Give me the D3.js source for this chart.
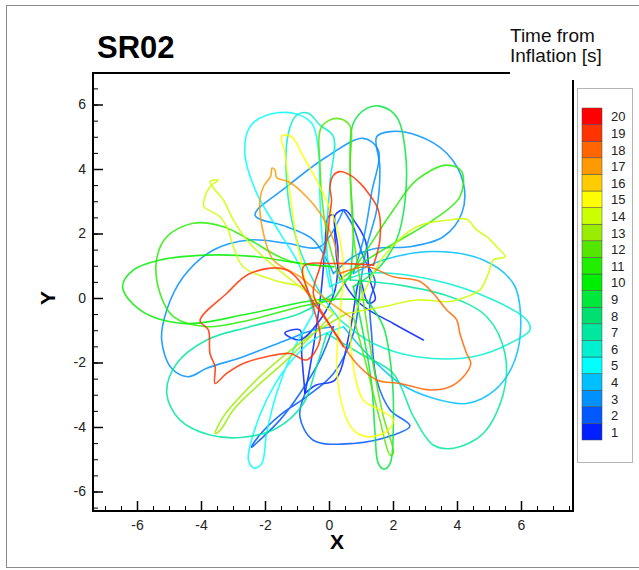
<!DOCTYPE html>
<html>
<head>
<meta charset="utf-8">
<script src="https://d3js.org/d3.v7.min.js"></script>
<style>
  body { margin: 0; background: #fff; }
  text { font-family: Arial, "Liberation Sans", Helvetica, sans-serif; }
</style>
</head>
<body>
<div id="chart"></div>
<script>
// legend levels (time from inflation, s) and their band colours
var levels = [1,2,3,4,5,6,7,8,9,10,11,12,13,14,15,16,17,18,19,20];
var levelColors = ["#0020ff","#0058ff","#0090ff","#00c0ff","#00ffff","#00f0d0","#00e8a0","#00e070","#00e83c","#00ee00",
                   "#22ee00","#55e600","#99ee00","#ccff00","#ffff00","#ffcc00","#ff9900","#ff6600","#ff3300","#ff0000"];

var xTicks = [-6,-4,-2,0,2,4,6];
var yTicks = [-6,-4,-2,0,2,4,6];

// time band of each loop of the track, in drawing order
var loopTimes = [1,1,2,3,2,3,3,4,5,5,6,6,7,7,9,9,10,11,11,12,14,13,14,15,17,18,19,19];

// track waypoints [x, y]
var loop01 = [[2.95,-1.30],[2.01,-0.79],[0.97,-0.17],[0.34,0.76],[0.19,1.80],[0.14,2.57],[-0.02,2.52],[-0.13,1.49],[-0.23,0.35],[-0.39,-0.89],[-0.59,-2.13],[-0.75,-2.96]];
var loop01b = [[-0.75,-2.96],[-0.85,-1.80],[-0.91,-0.99],[-1.38,-1.09],[-0.91,-1.30],[-0.28,-0.68],[0.19,0.25],[0.28,1.49],[0.19,2.57],[0.50,2.73],[0.81,2.36],[1.13,1.80],[1.28,0.56],[1.44,-0.06],[1.22,-0.16],[0.97,0.56],[0.66,-0.99],[0.19,-2.54],[-0.40,-2.70],[-0.75,-2.96]];
var loop02 = [[-0.75,-2.96],[-0.91,-3.68],[-0.49,-4.41],[0.76,-4.51],[2.01,-4.25],[2.53,-3.97],[1.91,-3.47],[1.49,-2.54],[1.33,-1.10],[1.28,-0.06],[1.44,0.51],[1.07,1.28],[0.76,2.21],[0.45,2.73]];
var loop03 = [[0.45,2.73],[-0.28,1.59],[-1.32,1.70],[-2.47,1.80],[-3.61,1.49],[-4.55,0.66],[-5.07,-0.37],[-5.23,-1.30],[-4.92,-2.18],[-4.40,-2.44],[-3.82,-2.18],[-2.68,-1.82],[-1.32,-1.30],[-0.49,-0.99],[0.14,-0.89]];
var loop04 = [[0.14,-0.89],[-0.28,-1.92],[-0.91,-2.96],[-1.53,-3.78],[-2.16,-4.40],[-2.42,-4.63],[-2.21,-4.30],[-1.53,-3.63],[-0.70,-3.06],[0.14,-2.34],[0.76,-1.10],[0.97,0.35]];
var loop05 = [[0.97,0.35],[1.18,1.59],[1.49,2.73],[1.59,4.07],[1.49,5.00],[1.91,5.16],[2.74,5.05],[3.68,4.49],[4.20,3.56],[4.15,2.63],[3.57,1.90],[2.53,1.59],[1.49,1.54],[0.76,1.28],[0.14,0.76]];
var loop06 = [[0.14,0.76],[-0.49,1.80],[-1.32,2.21],[-2.31,2.57],[-1.32,3.45],[-0.07,4.38],[1.07,4.95],[1.54,4.59],[1.33,3.25],[1.07,1.80],[0.76,0.76]];
var loop07 = [[0.76,0.76],[1.70,1.18],[3.26,1.44],[4.82,1.18],[5.76,0.45],[5.99,-0.58],[5.81,-1.92],[5.19,-2.85],[4.30,-3.27],[3.26,-3.11],[2.22,-2.65],[1.18,-1.72],[0.45,-0.89]];
var loop08 = [[0.45,-0.89],[-0.49,-1.30],[-1.32,-2.13],[-1.95,-3.16],[-2.36,-4.20],[-2.52,-5.02],[-2.34,-5.28],[-2.10,-5.13],[-1.95,-4.20],[-1.64,-2.96],[-1.11,-1.61],[-0.49,-0.48]];
var loop09 = [[-0.49,-0.48],[-0.91,0.97],[-1.53,2.01],[-2.26,3.25],[-2.63,4.49],[-2.47,5.31],[-1.95,5.67],[-1.11,5.73],[-0.54,5.42],[-0.33,4.59],[-0.28,3.04],[-0.18,1.49],[0.03,0.35]];
var loop10 = [[0.03,0.35],[1.18,0.76],[3.26,0.56],[5.14,-0.06],[6.18,-0.68],[6.28,-0.99],[5.86,-1.30],[4.51,-1.82],[2.74,-1.82],[1.39,-1.41],[0.34,-0.68]];
var loop11 = [[0.34,-0.68],[-0.39,0.35],[-1.01,1.80],[-1.32,3.56],[-1.27,5.11],[-1.01,5.67],[-0.65,5.73],[-0.28,5.36],[0.14,5.00],[0.03,3.56],[-0.07,1.49],[0.14,0.14]];
var loop12 = [[0.14,0.14],[-0.91,-0.48],[-2.47,-0.89],[-3.82,-1.30],[-4.76,-2.03],[-5.07,-2.96],[-4.66,-3.78],[-3.72,-4.25],[-2.68,-4.32],[-1.64,-4.04],[-0.80,-3.27],[-0.39,-2.13],[-0.07,-1.10]];
var loop13 = [[-0.07,-1.10],[0.97,-1.72],[2.01,-2.34],[2.64,-3.68],[3.26,-4.56],[3.89,-4.66],[4.82,-4.20],[5.45,-2.96],[5.50,-1.72],[4.93,-0.58],[3.78,0.04],[2.22,0.40],[0.66,0.56]];
var loop14 = [[0.66,0.56],[0.76,2.01],[0.66,4.07],[0.76,5.42],[1.18,5.88],[1.59,5.95],[2.11,5.62],[2.38,4.59],[2.38,3.04],[2.11,1.80],[1.59,0.97],[0.76,0.35]];
var loop15 = [[0.76,0.35],[1.07,-1.10],[1.33,-2.65],[1.44,-4.20],[1.54,-5.13],[1.72,-5.31],[1.91,-5.13],[2.01,-3.99],[1.96,-2.34],[1.70,-0.89],[1.18,-0.06]];
var loop16 = [[1.18,-0.06],[-0.39,-0.06],[-2.47,-0.48],[-4.55,-0.79],[-5.91,-0.37],[-6.45,0.35],[-6.11,0.87],[-5.28,1.18],[-3.82,1.33],[-2.26,1.28],[-0.91,1.07],[0.14,0.97]];
var loop17 = [[0.14,0.97],[-1.32,1.18],[-2.47,1.80],[-3.30,2.21],[-4.24,2.32],[-5.07,1.90],[-5.39,1.18],[-5.28,0.14],[-4.86,-0.58],[-3.82,-0.89],[-2.47,-0.68],[-0.91,-0.27],[0.14,-0.06]];
var loop18 = [[0.14,-0.06],[1.18,1.49],[2.01,2.73],[2.74,3.66],[3.68,4.12],[4.15,3.92],[4.09,3.14],[3.26,2.42],[2.22,1.80],[1.18,1.18],[0.34,0.56]];
var loop19 = [[0.34,0.56],[-0.07,2.01],[-0.28,4.07],[-0.23,5.31],[0.24,5.57],[0.64,5.36],[0.66,4.07],[0.76,2.01],[1.07,-0.06],[1.39,-2.13],[1.70,-3.68],[2.01,-4.82],[1.91,-4.87],[1.59,-3.78],[1.18,-2.13],[0.76,-0.58]];
var loop20 = [[0.76,-0.58],[1.18,0.35],[1.70,1.28],[2.74,2.21],[3.78,2.42],[4.30,2.44],[4.61,2.11],[4.93,1.90],[5.24,1.59],[5.50,1.28],[5.14,1.18],[4.98,0.76],[4.72,0.25],[4.30,0.04],[3.78,-0.11],[2.74,-0.06],[1.70,-0.27],[0.55,-0.48]];
var loop21 = [[0.55,-0.48],[-0.49,-1.10],[-1.32,-1.72],[-2.16,-2.44],[-2.78,-3.06],[-3.30,-3.68],[-3.56,-4.20],[-3.39,-4.09],[-2.99,-3.47],[-2.26,-2.75],[-1.32,-1.92],[0.14,-0.48]];
var loop22 = [[0.14,-0.48],[-0.91,0.35],[-1.95,1.18],[-2.57,1.80],[-2.99,2.42],[-3.30,3.04],[-3.56,3.35],[-3.72,3.61],[-3.46,3.66],[-3.72,3.45],[-3.88,3.14],[-3.91,2.83],[-3.67,2.68],[-3.41,2.52],[-3.15,2.11],[-2.99,1.59],[-2.68,0.97],[-1.74,0.56],[-0.70,0.35]];
var loop23 = [[-0.70,0.35],[-1.01,1.80],[-1.22,3.25],[-1.38,4.49],[-1.48,5.02],[-1.17,5.00],[-0.80,4.38],[-0.28,3.45],[0.24,2.21],[0.45,0.97],[0.34,-0.58],[0.24,-2.13],[0.45,-3.47],[0.76,-4.09],[1.18,-4.30],[1.80,-4.14],[2.01,-3.78],[1.59,-3.47],[1.07,-3.16],[0.76,-2.13],[0.66,-0.58]];
var loop24 = [[0.66,-0.58],[-0.07,-0.06],[-0.91,0.66],[-1.74,1.18],[-2.05,2.01],[-2.16,3.04],[-2.05,3.45],[-1.82,3.78],[-1.78,4.03],[-1.68,3.95],[-1.64,3.74],[-1.22,3.58],[-0.70,3.14],[-0.28,2.63],[0.14,1.80],[0.34,0.76]];
var loop25 = [[0.34,0.76],[1.18,0.97],[2.01,0.66],[2.84,0.51],[3.26,0.14],[3.68,-0.37],[3.99,-0.68],[4.09,-1.10],[4.30,-1.72],[4.43,-2.03],[4.20,-2.44],[3.78,-2.75],[3.16,-2.85],[2.22,-2.65],[1.49,-2.54],[0.86,-2.03],[0.34,-1.30]];
var loop26 = [[0.34,-1.30],[-0.39,-0.27],[-1.32,0.87],[-2.47,0.76],[-3.20,0.14],[-4.03,-0.70],[-3.77,-0.99],[-3.72,-1.72],[-3.56,-2.13],[-3.56,-2.65],[-3.20,-2.34],[-2.68,-2.03],[-1.95,-1.82],[-1.22,-1.72],[-0.70,-1.92],[-0.28,-1.30],[-0.49,-0.27],[-0.80,0.97],[0.14,1.07],[1.39,1.02]];
var loop27 = [[1.39,1.02],[1.59,1.80],[1.54,2.73],[1.23,3.25],[0.97,3.56],[0.66,3.81],[0.34,3.92],[0.14,3.81],[0.03,3.45],[0.08,3.04],[0.03,2.63],[-0.07,1.80],[-0.28,0.97],[-0.49,0.14],[-0.07,-0.68],[0.45,-1.51]];

var loops = [loop01,loop01b,loop02,loop03,loop04,loop05,loop06,loop07,loop08,loop09,loop10,loop11,loop12,loop13,loop14,
             loop15,loop16,loop17,loop18,loop19,loop20,loop21,loop22,loop23,loop24,loop25,loop26,loop27];

(function(){

  var width = 639,
      height = 570,
      plot = {left: 93, right: 573, top: 73, bottom: 511};

  var svg = d3.select('#chart').append('svg')
    .attr('width', width)
    .attr('height', height)
    .style('display', 'block');

  svg.append('rect')
    .attr('width', width).attr('height', height)
    .attr('fill', '#fff');

  // faint outer page border
  svg.append('rect')
    .attr('x', 6.5).attr('y', 5.5)
    .attr('width', 660).attr('height', 562)
    .attr('fill', 'none')
    .attr('stroke', '#8a8a8a')
    .attr('stroke-width', 1);

  var x = d3.scaleLinear()
    .domain([-7.375, 7.625])
    .range([plot.left, plot.right]);

  var y = d3.scaleLinear()
    .domain([-6.605, 6.977])
    .range([plot.bottom, plot.top]);

  var color = d3.scaleOrdinal()
    .domain(levels)
    .range(levelColors);

  svg.append('clipPath').attr('id', 'plotclip')
    .append('rect')
    .attr('x', plot.left).attr('y', plot.top)
    .attr('width', plot.right - plot.left)
    .attr('height', plot.bottom - plot.top);

  var line = d3.line()
    .x(function(d){ return x(d[0]); })
    .y(function(d){ return y(d[1]); })
    .curve(d3.curveCatmullRom.alpha(0.5));

  svg.append('g')
    .attr('class', 'track')
    .attr('clip-path', 'url(#plotclip)')
    .selectAll('path')
    .data(loops)
    .enter().append('path')
      .attr('d', line)
      .attr('fill', 'none')
      .attr('stroke', function(d, i){ return color(loopTimes[i]); })
      .attr('stroke-opacity', 0.85)
      .attr('stroke-width', 1.6)
      .attr('stroke-linejoin', 'round')
      .attr('stroke-linecap', 'round');

  // axes, ticks pointing into the plot
  var minorX = d3.range(-7, 7.51, 0.5),
      minorY = d3.range(-6.5, 6.51, 0.5);

  var xAxis = d3.axisBottom(x).tickValues(xTicks).tickSize(-10).tickSizeOuter(0).tickPadding(9)
    .tickFormat(function(d){ return d; });
  var xMinor = d3.axisBottom(x).tickValues(minorX).tickSize(-5).tickSizeOuter(0).tickFormat('');
  var yAxis = d3.axisLeft(y).tickValues(yTicks).tickSize(-10).tickSizeOuter(0).tickPadding(7)
    .tickFormat(function(d){ return d; });
  var yMinor = d3.axisLeft(y).tickValues(minorY).tickSize(-5).tickSizeOuter(0).tickFormat('');

  function styleAxis(g){
    g.select('.domain').remove();
    g.selectAll('line').attr('stroke', '#000').attr('stroke-width', 1.5);
    g.selectAll('text')
      .attr('fill', '#222')
      .style('font-size', '14px')
      .style('font-family', 'Arial, "Liberation Sans", sans-serif');
  }

  svg.append('g').attr('transform', 'translate(0,' + plot.bottom + ')').call(xMinor).call(styleAxis)
    .selectAll('line').attr('stroke-width', 1);
  svg.append('g').attr('transform', 'translate(0,' + plot.bottom + ')').call(xAxis).call(styleAxis);
  svg.append('g').attr('transform', 'translate(' + plot.left + ',0)').call(yMinor).call(styleAxis)
    .selectAll('line').attr('stroke-width', 1);
  svg.append('g').attr('transform', 'translate(' + plot.left + ',0)').call(yAxis).call(styleAxis);

  svg.append('rect')
    .attr('x', plot.left).attr('y', plot.top)
    .attr('width', plot.right - plot.left)
    .attr('height', plot.bottom - plot.top)
    .attr('fill', 'none')
    .attr('stroke', '#000')
    .attr('stroke-width', 2);

  svg.append('text')
    .attr('x', (plot.left + plot.right) / 2 + 4)
    .attr('y', 549)
    .attr('text-anchor', 'middle')
    .style('font-size', '21px')
    .style('font-weight', 'bold')
    .text('X');

  svg.append('text')
    .attr('transform', 'translate(55,' + y(0) + ') rotate(-90)')
    .attr('text-anchor', 'middle')
    .style('font-size', '21px')
    .style('font-weight', 'bold')
    .text('Y');

  svg.append('text')
    .attr('x', 97)
    .attr('y', 58)
    .style('font-size', '31px')
    .style('font-weight', 'bold')
    .text('SR02');

  // legend header sits over the top right corner of the frame
  svg.append('rect')
    .attr('x', 510).attr('y', 20)
    .attr('width', 140).attr('height', 60)
    .attr('fill', '#fff');

  svg.append('text')
    .attr('x', 510).attr('y', 42)
    .style('font-size', '19px')
    .attr('fill', '#111')
    .text('Time from');

  svg.append('text')
    .attr('x', 510).attr('y', 62)
    .style('font-size', '19px')
    .attr('fill', '#111')
    .text('Inflation [s]');

  // colour legend
  var legend = svg.append('g').attr('class', 'legend');

  legend.append('rect')
    .attr('x', 577.5).attr('y', 88.5)
    .attr('width', 55).attr('height', 374)
    .attr('fill', '#fff')
    .attr('stroke', '#b5b5b5');

  var band = d3.scaleBand()
    .domain(levels.slice().reverse())
    .range([108, 440])
    .padding(0);

  var rows = legend.selectAll('g.row')
    .data(levels)
    .enter().append('g')
    .attr('class', 'row');

  rows.append('rect')
    .attr('x', 582)
    .attr('y', function(d){ return band(d); })
    .attr('width', 20)
    .attr('height', band.bandwidth())
    .attr('fill', function(d){ return color(d); })
    .attr('stroke', '#4a4a4a')
    .attr('stroke-width', 0.5);

  rows.append('text')
    .attr('x', 611)
    .attr('y', function(d){ return band(d) + band.bandwidth() / 2 + 5; })
    .style('font-size', '13px')
    .attr('fill', '#222')
    .text(function(d){ return d; });

})();
</script>
</body>
</html>
